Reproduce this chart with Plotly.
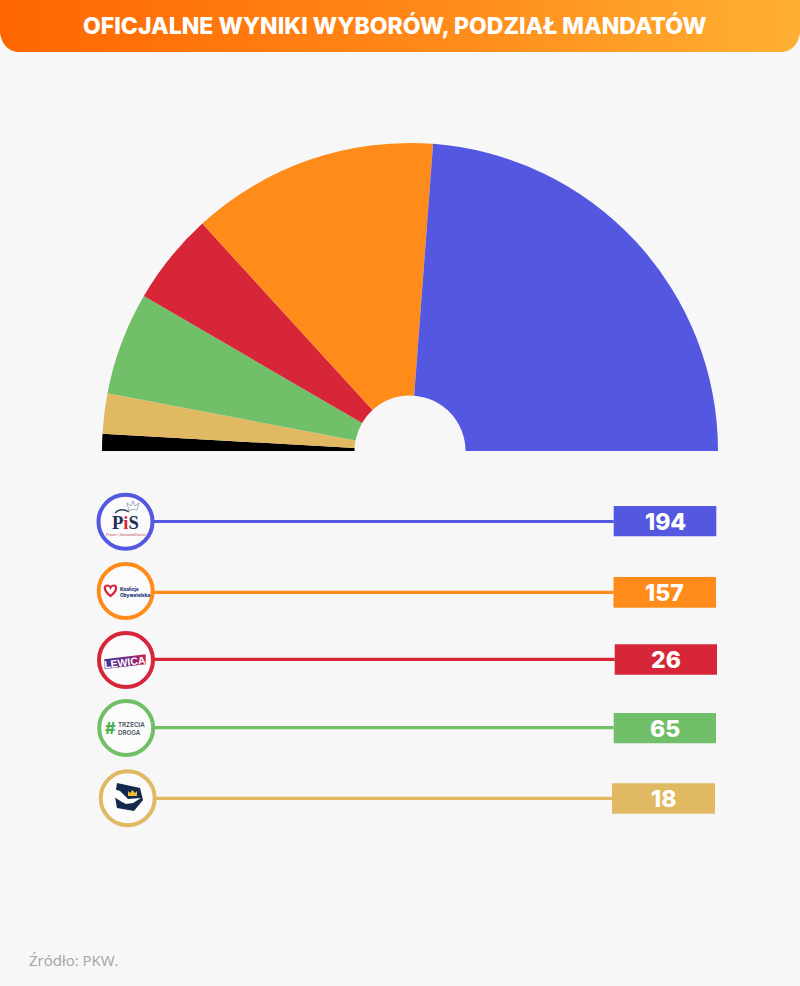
import plotly.graph_objects as go

# slices as drawn in the picture, in degrees, clockwise from the left end of the arc
slice_names = ["Inni", "Konfederacja", "Trzecia Droga", "Lewica", "Koalicja Obywatelska", "PiS", ""]
slice_degrees = [3.2, 7.6, 19.4, 17.4, 46.7, 85.7, 180]
slice_colors = ["#000000", "#E0B962", "#72BF6A", "#D72638", "#FF8C1A", "#5457DF", "rgba(0,0,0,0)"]

parties = ["PiS", "Koalicja Obywatelska", "Lewica", "Trzecia Droga", "Konfederacja"]
seats = [194, 157, 26, 65, 18]
party_colors = ["#5457DF", "#FF8C1A", "#D72638", "#72BF6A", "#E0B962"]

# row layout in page pixels
circle_x = [125.5, 125.7, 126, 126.2, 127.7]
circle_y = [521.7, 591, 660, 728, 798.3]
line_y = [521.5, 592.3, 659.3, 727.7, 798.3]
box_left = [613.7, 613.5, 614.7, 613.7, 612]
box_right = [716.3, 716, 717, 716, 715]
box_top = [506, 577, 644.3, 713, 783.3]
box_bottom = [536.3, 607.7, 674.7, 743.3, 813.7]

W, H = 800, 986
BG = "#F7F7F7"
cx, cy, r = 410, 451, 308

fig = go.Figure()

# header gradient
fig.add_trace(go.Heatmap(x=[0, 800], y=[13, 39], z=[[0, 1], [0, 1]], zsmooth="best", showscale=False,
                         colorscale=[[0, "#FF6600"], [0.55, "#FF8A1A"], [1, "#FFB033"]], hoverinfo="skip"))

fig.add_trace(go.Pie(labels=slice_names, values=slice_degrees, sort=False, direction="clockwise", rotation=-90,
                     hole=55.5 / r, textinfo="none", hoverinfo="skip", showlegend=False,
                     marker=dict(colors=slice_colors, line=dict(width=0)),
                     domain=dict(x=[(cx - r) / W, (cx + r) / W], y=[1 - (cy + r) / H, 1 - (cy - r) / H])))

# leader lines, circles and value boxes
shapes = []
for i, party in enumerate(parties):
    fig.add_trace(go.Scatter(x=[circle_x[i], box_left[i]], y=[line_y[i], line_y[i]], mode="lines", name=party,
                             line=dict(color=party_colors[i], width=3.2), hoverinfo="skip", showlegend=False))
    fig.add_trace(go.Scatter(x=[circle_x[i]], y=[circle_y[i]], mode="markers", hoverinfo="skip", showlegend=False,
                             marker=dict(size=54, color="#FBFBFB", line=dict(color=party_colors[i], width=4))))
    shapes.append(dict(type="rect", x0=box_left[i], x1=box_right[i], y0=box_top[i], y1=box_bottom[i],
                       fillcolor=party_colors[i], line=dict(width=0), layer="above"))

# lewica logo band
fig.add_trace(go.Scatter(x=[104.3, 145.7, 145.7, 104.8, 104.3], y=[659.3, 654.3, 664.3, 669, 659.3], mode="lines", fill="toself",
                         line=dict(width=0), hoverinfo="skip", showlegend=False,
                         fillgradient=dict(type="horizontal", colorscale=[[0, "#3D3190"], [0.6, "#7A2A80"], [1, "#C8204C"]])))

# rounded header corners
shapes.append(dict(type="path", path="M0,52 L0,33 Q3,50 17,52 Z", fillcolor=BG, line=dict(width=0), layer="above"))
shapes.append(dict(type="path", path="M800,52 L800,33 Q797,50 783,52 Z", fillcolor=BG, line=dict(width=0), layer="above"))

# pis crown
shapes.append(dict(type="path", path="M129,511 C131,509 135,509 137,510 L139,503 L135,506 L133,501 L131,506 L127,503 Z",
                   fillcolor="#FBFBFB", line=dict(color="#8A9BB5", width=0.8), layer="above"))
shapes.append(dict(type="path", path="M115,513 C119,509 124,509 129,512", line=dict(color="#33415C", width=1.3), layer="above"))
# ko heart
shapes.append(dict(type="path", path="M110.5,596 C103,590 104,585.5 107.5,585.5 C109,585.5 110,586.5 110.5,587.5 C111,586.5 112,585.5 113.5,585.5 C117,585.5 118,590 110.5,596 Z",
                   fillcolor="white", line=dict(color="#D72638", width=2.2), layer="above"))
# konfederacja emblem
shapes.append(dict(type="path", path="M117,783 L140,788 L143,800 L134,811 L117,808 L115,797 Z",
                   fillcolor="#14284B", line=dict(width=0), layer="above"))
shapes.append(dict(type="path", path="M110,788 L120,791 L128,799 L141,798 L133,803 L126,804 L122,802 L114,797 Z",
                   fillcolor="white", line=dict(width=0), layer="above"))
shapes.append(dict(type="path", path="M128,791 L128,796 L137,796 L137,791 L135,793 L132.5,790 L130,793 Z",
                   fillcolor="#EDBB3A", line=dict(width=0), layer="above"))

annotations = []


def label(x, y, text, size, color, weight=400, family="Inter", anchor="center", angle=0):
    annotations.append(dict(x=x, y=y, text=text, showarrow=False, xanchor=anchor, yanchor="middle", textangle=angle,
                            align="left" if anchor == "left" else "center", borderpad=0,
                            font=dict(family=family, size=size, color=color, weight=weight)))


label(394.5, 26, "OFICJALNE WYNIKI WYBORÓW, PODZIAŁ MANDATÓW", 23, "white", 800)
for i, value in enumerate(seats):
    label((box_left[i] + box_right[i]) / 2, (box_top[i] + box_bottom[i]) / 2 + 0.5, str(value), 23, "white", 800)

# logos, as text
label(125, 522.5, "P<span style='color:#D72638'>i</span>S", 18.5, "#1B2F5B", 700, "Liberation Serif")
label(125.5, 534.5, "Prawo i Sprawiedliwość", 3.6, "#C0505A")
label(119, 591.8, "Koalicja<br>Obywatelska", 4.7, "#1B3A7A", 800, anchor="left")
label(125, 661.5, "LEWICA", 10.5, "white", 700, "Liberation Sans", angle=-7)
label(110, 728, "#", 16, "#4CAF50", 800)
label(116.5, 728, "TRZECIA<br>DROGA", 6.2, "#46505F", 600, anchor="left")

label(28, 960, "Źródło: PKW.", 15, "#A3A3A3", 400, "Open Sans", anchor="left")

fig.update_layout(width=W, height=H, margin=dict(l=0, r=0, t=0, b=0), paper_bgcolor=BG, plot_bgcolor=BG,
                  showlegend=False, shapes=shapes, annotations=annotations,
                  xaxis=dict(range=[0, W], visible=False, fixedrange=True),
                  yaxis=dict(range=[H, 0], visible=False, fixedrange=True))

# drop the page's default body margin so the figure fills the window
fig.write_html("out.html", config=dict(displayModeBar=False),
               post_script="document.body.style.margin='0';document.body.style.background='" + BG + "';")
